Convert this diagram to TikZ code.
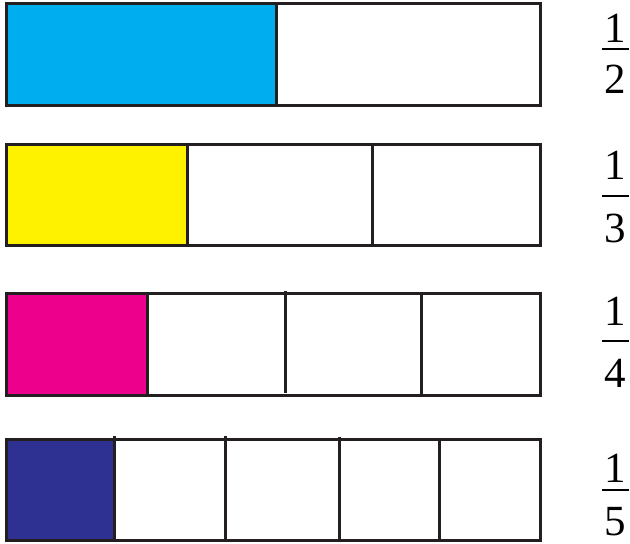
\documentclass[tikz,border=0pt]{standalone}
\usepackage{fontspec}
\setmainfont{Liberation Serif}
\definecolor{lineblk}{HTML}{231F20}
\definecolor{pcyan}{HTML}{00AEEF}
\definecolor{pyellow}{HTML}{FFF200}
\definecolor{pmagenta}{HTML}{EC008C}
\definecolor{pblue}{HTML}{2E3192}
\tikzset{
  barbox/.style={draw=lineblk, line width=3pt},
  divider/.style={draw=lineblk, line width=3pt},
  digit/.style={anchor=base, inner sep=0pt, font=\fontsize{43}{43}\selectfont, text=black},
  fracbar/.style={draw=black, line width=2pt}
}
\begin{document}
\begin{tikzpicture}[x=1pt,y=-1pt]
\useasboundingbox (0,0) rectangle (630,544);
% Row 1 : 1/2
\fill[pcyan] (6.5,3.5) rectangle (276,105.5);
\draw[divider] (276,3.5) -- (276,105.5);
\draw[barbox] (6.5,3.5) rectangle (540.5,105.5);
% Row 2 : 1/3
\fill[pyellow] (6.5,144.5) rectangle (187,245.5);
\draw[divider] (187,144.5) -- (187,245.5);
\draw[divider] (372,144.5) -- (372,245.5);
\draw[barbox] (6.5,144.5) rectangle (540.5,245.5);
% Row 3 : 1/4
\fill[pmagenta] (6.5,293.5) rectangle (147,395.5);
\draw[divider] (147,293.5) -- (147,395.5);
\draw[divider] (285,290.5) -- (285,393);
\draw[divider] (421.7,293.5) -- (421.7,395.5);
\draw[barbox] (6.5,293.5) rectangle (540.5,395.5);
% Row 4 : 1/5
\fill[pblue] (6.5,439) rectangle (114.5,540);
\draw[divider] (114.5,436) -- (114.5,540);
\draw[divider] (225,436) -- (225,540);
\draw[divider] (339,436.5) -- (339,540);
\draw[divider] (439,439) -- (439,540);
\draw[barbox] (6.5,439) rectangle (540.5,540);
% Fractions
\node[digit] (n1) at (615,42) {1};
\draw[fracbar] (602,49) -- (629,49);
\node[digit] (d1) at (615,93) {2};
\node[digit] (n2) at (615,179) {1};
\draw[fracbar] (602,196) -- (629,196);
\node[digit] (d2) at (615,242) {3};
\node[digit] (n3) at (615,325) {1};
\draw[fracbar] (602,341) -- (629,341);
\node[digit] (d3) at (615,387) {4};
\node[digit] (n4) at (615,482) {1};
\draw[fracbar] (602,490) -- (629,490);
\node[digit] (d4) at (615,535) {5};
\end{tikzpicture}
\end{document}
